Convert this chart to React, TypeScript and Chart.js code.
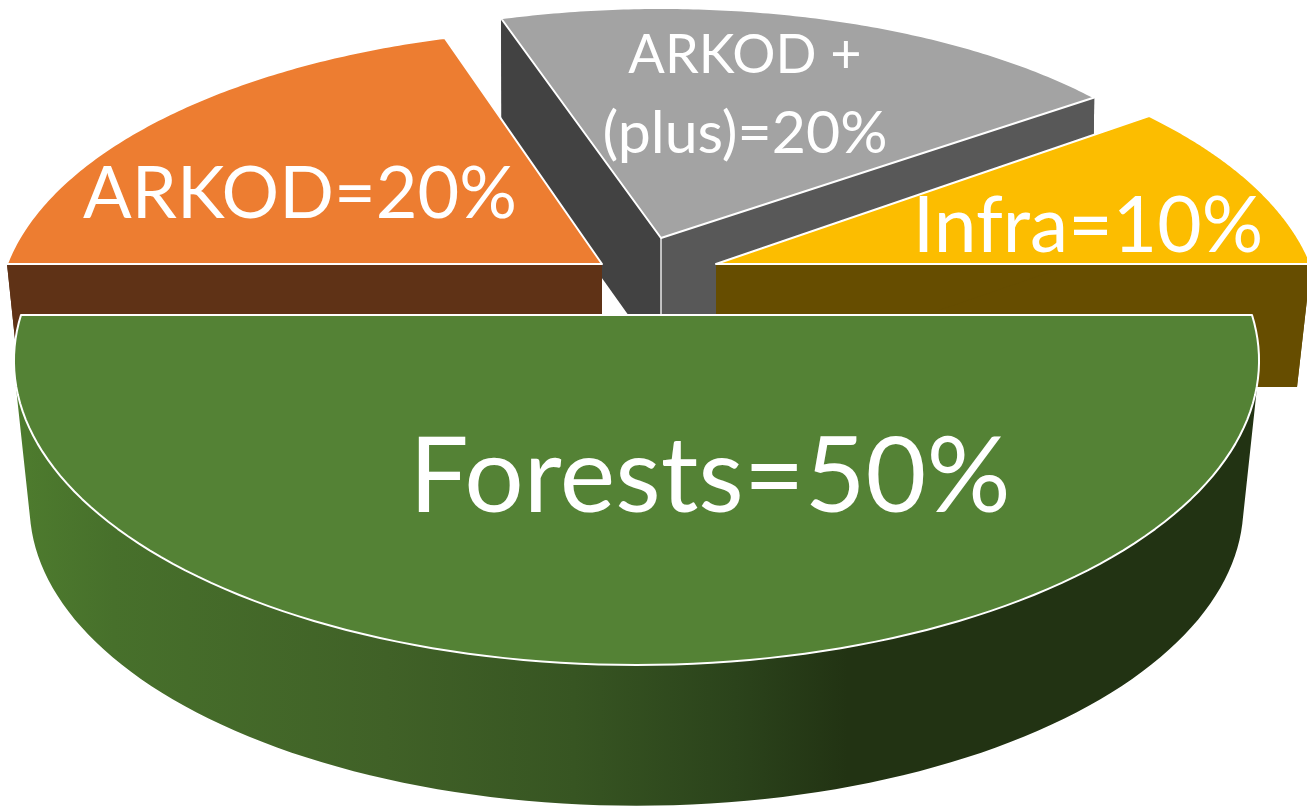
import React, { useEffect, useRef } from "react";
import { Chart, registerables } from "chart.js";

Chart.register(...registerables);

const categories = ["Forests", "ARKOD", "ARKOD + (plus)", "Infra"];
const shares = [50, 20, 20, 10];
const labelLines = [["Forests=50%"], ["ARKOD=20%"], ["ARKOD +", "(plus)=20%"], ["Infra=10%"]];
const topColors = ["#548235", "#ed7d31", "#a3a3a3", "#fcbd00"];

type Face = { cx: number; cy: number; rx: number; ry: number; k: number };
const topFaces: Face[] = [
  { cx: 636.5, cy: 315, rx: 615.5, ry: 297.5, k: 0.15 },
  { cx: 602, cy: 264, rx: 595, ry: 278, k: 0.178 },
  { cx: 661, cy: 238, rx: 567, ry: 253, k: 0.1 },
  { cx: 716, cy: 264, rx: 595, ry: 280, k: 0.19 },
];
const bottomFaces: Face[] = [
  { cx: 636.5, cy: 461, rx: 600, ry: 293, k: 0.15 },
  { cx: 602, cy: 387, rx: 582, ry: 272, k: 0.178 },
  { cx: 661, cy: 361, rx: 565, ry: 258, k: 0.1 },
  { cx: 716, cy: 387, rx: 581, ry: 275, k: 0.19 },
];
const startWallColors = ["#223313", "#5f3216", "#424242", "#664d00"];
const endWallColors = ["#223313", "#5f3216", "#585858", "#664d00"];
const rimColors = ["", "#5f3216", "#585858", "#664d00"];
const forestRimStops: [number, string][] = [
  [0, "#4e7c2e"],
  [0.08, "#47702b"],
  [0.3, "#406127"],
  [0.45, "#375522"],
  [0.58, "#2b431b"],
  [0.67, "#223313"],
  [1, "#223313"],
];
const drawOrder = [2, 1, 3, 0];
const labelPlacement = [
  [{ size: 105, x: 710, y: 512 }],
  [{ size: 72, x: 300, y: 218 }],
  [{ size: 54, x: 745, y: 73 }, { size: 59, x: 745, y: 153 }],
  [{ size: 76.7, x: 1088, y: 252 }],
];

function project(f: Face, t: number): [number, number] {
  const w = 1 - f.k * Math.sin(t);
  return [f.cx + (f.rx * Math.cos(t)) / w, f.cy + (f.ry * Math.sin(t)) / w];
}

function quad(ctx: CanvasRenderingContext2D, a: number[], b: number[], c: number[], d: number[]) {
  const pts = [a, b, c, d];
  let area = 0;
  for (let i = 0; i < 4; i++) {
    const p = pts[i];
    const q = pts[(i + 1) % 4];
    area += p[0] * q[1] - q[0] * p[1];
  }
  const ordered = area >= 0 ? pts : pts.slice().reverse();
  ctx.moveTo(ordered[0][0], ordered[0][1]);
  for (let i = 1; i < 4; i++) ctx.lineTo(ordered[i][0], ordered[i][1]);
  ctx.closePath();
}

const pie3d = {
  id: "pie3d",
  beforeDatasetsDraw(chart: any) {
    const { ctx } = chart;
    const arcs = chart.getDatasetMeta(0).data;
    ctx.save();
    ctx.lineJoin = "round";

    for (const i of drawOrder) {
      const arc = arcs[i];
      const top = topFaces[i];
      const bottom = bottomFaces[i];
      const a0 = arc.startAngle;
      const a1 = arc.endAngle;
      const steps = 120;

      // rim: the outer wall between the two faces
      ctx.beginPath();
      for (let s = 0; s < steps; s++) {
        const t0 = a0 + ((a1 - a0) * s) / steps;
        const t1 = a0 + ((a1 - a0) * (s + 1)) / steps;
        quad(ctx, project(top, t0), project(top, t1), project(bottom, t1), project(bottom, t0));
      }
      if (i === 0) {
        const g = ctx.createLinearGradient(14, 0, 1258, 0);
        forestRimStops.forEach(([o, c]) => g.addColorStop(o, c));
        ctx.fillStyle = g;
      } else {
        ctx.fillStyle = rimColors[i];
      }
      ctx.fill();

      // radial cut faces
      if (i !== 0) {
        const c0 = [top.cx, top.cy];
        const c1 = [bottom.cx, bottom.cy];
        ctx.beginPath();
        quad(ctx, c0, project(top, a1), project(bottom, a1), c1);
        ctx.fillStyle = endWallColors[i];
        ctx.fill();
        ctx.beginPath();
        quad(ctx, c0, project(top, a0), project(bottom, a0), c1);
        ctx.fillStyle = startWallColors[i];
        ctx.fill();
        if (i === 2) {
          ctx.beginPath();
          ctx.moveTo(c0[0], c0[1]);
          ctx.lineTo(c1[0], c1[1]);
          ctx.strokeStyle = "#e8e8e8";
          ctx.lineWidth = 1.5;
          ctx.stroke();
        }
      }

      // top face
      ctx.beginPath();
      ctx.moveTo(top.cx, top.cy);
      for (let s = 0; s <= steps; s++) {
        const p = project(top, a0 + ((a1 - a0) * s) / steps);
        ctx.lineTo(p[0], p[1]);
      }
      ctx.closePath();
      ctx.fillStyle = arc.options.backgroundColor;
      ctx.fill();
      ctx.strokeStyle = "#ffffff";
      ctx.lineWidth = 2;
      ctx.stroke();
    }

    // labels
    ctx.fillStyle = "#ffffff";
    ctx.textAlign = "center";
    ctx.textBaseline = "alphabetic";
    labelLines.forEach((lines, i) => {
      lines.forEach((line, j) => {
        const place = labelPlacement[i][j];
        ctx.font = `${place.size}px Lato`;
        ctx.fillText(line, place.x, place.y);
      });
    });
    ctx.restore();
    return false;
  },
};

export default function App() {
  const ref = useRef<HTMLCanvasElement | null>(null);
  useEffect(() => {
    const chart = new Chart(ref.current as HTMLCanvasElement, {
      type: "pie",
      data: {
        labels: categories,
        datasets: [{ data: shares, backgroundColor: topColors, borderWidth: 0 }],
      },
      options: {
        responsive: false,
        animation: false,
        devicePixelRatio: 1,
        rotation: 90,
        plugins: { legend: { display: false }, tooltip: { enabled: false } },
      },
      plugins: [pie3d],
    } as any);
    return () => chart.destroy();
  }, []);
  return (
    <div style={{ position: "absolute", left: 0, top: 0, width: 1307, height: 808, overflow: "hidden", background: "#fff" }}>
      <canvas ref={ref} width={1307} height={808} style={{ display: "block" }} />
    </div>
  );
}
